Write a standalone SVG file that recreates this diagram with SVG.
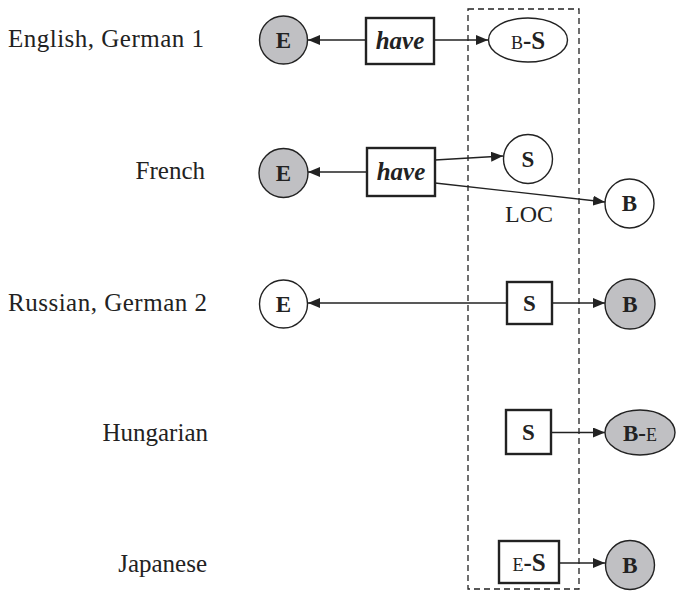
<svg xmlns="http://www.w3.org/2000/svg" width="677" height="599" viewBox="0 0 677 599">
<style>
  .lbl { font-family: "Liberation Serif", "Times New Roman", serif; font-size: 25px; fill: #222; text-anchor: end; }
  .nt { font-family: "Liberation Serif", "Times New Roman", serif; font-size: 23px; font-weight: bold; fill: #222; text-anchor: middle; }
  .sm { font-family: "Liberation Serif", "Times New Roman", serif; font-size: 18px; font-weight: normal; fill: #222; }
  .big { font-family: "Liberation Serif", "Times New Roman", serif; font-size: 25px; font-weight: bold; fill: #222; }
  .have { font-family: "Liberation Serif", "Times New Roman", serif; font-size: 25px; font-weight: bold; font-style: italic; fill: #222; text-anchor: middle; }
  .loc { font-family: "Liberation Serif", "Times New Roman", serif; font-size: 24px; fill: #222; text-anchor: middle; }
  .gray { fill: #c0c0c3; stroke: #222; stroke-width: 1.4; }
  .white { fill: #fff; stroke: #222; stroke-width: 1.4; }
  .box { fill: #fff; stroke: #222; stroke-width: 2.4; }
  .conn { stroke: #222; stroke-width: 1.4; fill: none; marker-end: url(#arr); }
  .frame { fill: none; stroke: #222; stroke-width: 1.3; stroke-dasharray: 6 4; }
</style>
<defs>
  <marker id="arr" markerUnits="userSpaceOnUse" markerWidth="12" markerHeight="10" refX="12" refY="5" orient="auto">
    <path d="M0,0 L12,5 L0,10 z" fill="#222"/>
  </marker>
</defs>

<rect id="frame" class="frame" x="468" y="9" width="111" height="580"/>

<g id="labels">
  <text class="lbl" x="204" y="47" textLength="196">English, German 1</text>
  <text class="lbl" x="205" y="179">French</text>
  <text class="lbl" x="207" y="311" textLength="199">Russian, German 2</text>
  <text class="lbl" x="208" y="441">Hungarian</text>
  <text class="lbl" x="207" y="572">Japanese</text>
  <text class="loc" x="529" y="222">LOC</text>
</g>

<g id="connectors">
  <line class="conn" x1="366" y1="40" x2="308" y2="40"/>
  <line class="conn" x1="434" y1="40" x2="488" y2="40"/>
  <line class="conn" x1="367" y1="172" x2="308" y2="172"/>
  <line class="conn" x1="435" y1="160" x2="503" y2="156"/>
  <line class="conn" x1="435" y1="183" x2="605" y2="202"/>
  <line class="conn" x1="507" y1="303" x2="308" y2="303"/>
  <line class="conn" x1="552" y1="303" x2="605" y2="303"/>
  <line class="conn" x1="551" y1="432.5" x2="605" y2="432.5"/>
  <line class="conn" x1="559" y1="563" x2="605" y2="563"/>
</g>

<g id="r1-E">
  <circle class="gray" cx="283.5" cy="40" r="24"/>
  <text class="nt" x="283.5" y="47.5">E</text>
</g>
<g id="r1-have">
  <rect class="box" x="366" y="18" width="68" height="46"/>
  <text class="have" x="400" y="48.5">have</text>
</g>
<g id="r1-BS">
  <ellipse class="white" cx="528" cy="40" rx="39.5" ry="22"/>
  <text x="528" y="48.5" text-anchor="middle"><tspan class="sm">B</tspan><tspan class="big">-S</tspan></text>
</g>

<g id="r2-E">
  <circle class="gray" cx="283.5" cy="173" r="24.5"/>
  <text class="nt" x="283.5" y="180.5">E</text>
</g>
<g id="r2-have">
  <rect class="box" x="367" y="148" width="68" height="48"/>
  <text class="have" x="401" y="179.5">have</text>
</g>
<g id="r2-S">
  <circle class="white" cx="528" cy="159" r="24.5"/>
  <text class="nt" x="528" y="166.5">S</text>
</g>
<g id="r2-B">
  <circle class="white" cx="629.5" cy="203.5" r="24.5"/>
  <text class="nt" x="629.5" y="211">B</text>
</g>

<g id="r3-E">
  <circle class="white" cx="283.5" cy="304" r="24"/>
  <text class="nt" x="283.5" y="311.5">E</text>
</g>
<g id="r3-S">
  <rect class="box" x="507" y="282" width="45" height="42"/>
  <text class="nt" x="529.5" y="310.5">S</text>
</g>
<g id="r3-B">
  <circle class="gray" cx="630" cy="304" r="25"/>
  <text class="nt" x="630" y="311.5">B</text>
</g>

<g id="r4-S">
  <rect class="box" x="506" y="410" width="45" height="44"/>
  <text class="nt" x="528.5" y="440">S</text>
</g>
<g id="r4-BE">
  <ellipse class="gray" cx="640" cy="432.5" rx="35" ry="22.5"/>
  <text x="640" y="440.5" text-anchor="middle"><tspan class="big" style="font-size:23px">B-</tspan><tspan class="sm">E</tspan></text>
</g>

<g id="r5-ES">
  <rect class="box" x="499" y="541" width="60" height="42"/>
  <text x="529" y="570.5" text-anchor="middle"><tspan class="sm">E</tspan><tspan class="big">-S</tspan></text>
</g>
<g id="r5-B">
  <circle class="gray" cx="630" cy="565" r="24.5"/>
  <text class="nt" x="630" y="572.5">B</text>
</g>
</svg>
